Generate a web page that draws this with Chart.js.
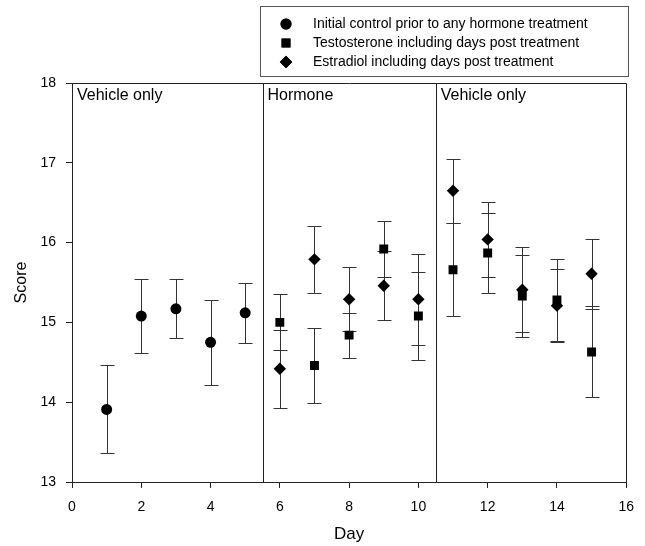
<!DOCTYPE html>
<html>
<head>
<meta charset="utf-8">
<script src="https://cdn.jsdelivr.net/npm/chart.js@4/dist/chart.umd.min.js"></script>
<style>
  html, body { margin: 0; padding: 0; background: #fff; }
  #wrap { width: 645px; height: 546px; }
</style>
</head>
<body>
<div id="wrap"><canvas id="scoreChart" width="645" height="546"></canvas></div>
<script>
// Data
const controlDays = [1, 2, 3, 4, 5];
const controlScore = [13.91, 15.08, 15.17, 14.75, 15.12];
const controlErr = [0.55, 0.46, 0.37, 0.53, 0.38];

const hormoneDays = [6, 7, 8, 9, 10, 11, 12, 13, 14, 15];
const testoScore = [15.00, 14.46, 14.84, 15.92, 15.08, 15.66, 15.87, 15.33, 15.28, 14.63];
const testoErr = [0.35, 0.47, 0.28, 0.35, 0.55, 0.58, 0.50, 0.51, 0.51, 0.57];
const estraScore = [14.42, 15.79, 15.29, 15.46, 15.29, 16.65, 16.04, 15.41, 15.21, 15.61];
const estraErr = [0.49, 0.42, 0.40, 0.43, 0.57, 0.40, 0.47, 0.53, 0.46, 0.44];

const phaseBreaks = [5.5, 10.5];
const phaseLabels = ["Vehicle only", "Hormone", "Vehicle only"];

const FONT = "'Liberation Sans', Arial, sans-serif";

function points(xs, ys, errs) {
    return xs.map((x, i) => ({ x: x, y: ys[i], err: errs[i] }));
}

// error bars, drawn under the markers
const errorBars = {
    id: 'errorBars',
    beforeDatasetsDraw(chart) {
        const ctx = chart.ctx;
        const xs = chart.scales.x, ys = chart.scales.y;
        ctx.save();
        ctx.strokeStyle = '#333';
        ctx.lineWidth = 1;
        chart.data.datasets.forEach(ds => {
            ds.data.forEach(p => {
                const px = Math.round(xs.getPixelForValue(p.x)) + 0.5;
                const top = Math.round(ys.getPixelForValue(p.y + p.err)) + 0.5;
                const bot = Math.round(ys.getPixelForValue(p.y - p.err)) + 0.5;
                ctx.beginPath();
                ctx.moveTo(px, top); ctx.lineTo(px, bot);
                ctx.moveTo(px - 7, top); ctx.lineTo(px + 7, top);
                ctx.moveTo(px - 7, bot); ctx.lineTo(px + 7, bot);
                ctx.stroke();
            });
        });
        ctx.restore();
    }
};

// frame, phase lines, phase labels and the boxed legend
const decorations = {
    id: 'decorations',
    afterDraw(chart) {
        const ctx = chart.ctx;
        const a = chart.chartArea;
        const xs = chart.scales.x;
        ctx.save();
        ctx.strokeStyle = '#222';
        ctx.lineWidth = 1;
        ctx.beginPath();
        ctx.moveTo(Math.round(a.left) + 0.5, Math.round(a.top) + 0.5);
        ctx.lineTo(Math.round(a.right) + 0.5, Math.round(a.top) + 0.5);
        ctx.lineTo(Math.round(a.right) + 0.5, Math.round(a.bottom) + 0.5);
        phaseBreaks.forEach(b => {
            const px = Math.round(xs.getPixelForValue(b)) + 0.5;
            ctx.moveTo(px, a.top);
            ctx.lineTo(px, a.bottom);
        });
        ctx.stroke();

        ctx.fillStyle = '#000';
        ctx.font = '16px ' + FONT;
        ctx.textBaseline = 'alphabetic';
        const starts = [a.left].concat(phaseBreaks.map(b => xs.getPixelForValue(b)));
        phaseLabels.forEach((t, i) => ctx.fillText(t, starts[i] + 5, a.top + 17));

        // legend
        ctx.strokeStyle = '#555';
        ctx.strokeRect(260.5, 6.5, 368, 70);
        ctx.font = '14px ' + FONT;
        ctx.textBaseline = 'middle';
        const rows = [24, 43, 62];
        chart.data.datasets.forEach((ds, i) => {
            Chart.helpers.drawPoint(ctx, {
                pointStyle: ds.pointStyle, radius: ds.pointRadius, borderWidth: 0
            }, 286, rows[i]);
            ctx.fillStyle = '#000';
            ctx.fill();
            ctx.fillText(ds.label, 313, rows[i]);
        });
        ctx.restore();
    }
};

new Chart("scoreChart", {
    type: "scatter",
    data: {
        datasets: [{
            label: "Initial control prior to any hormone treatment",
            data: points(controlDays, controlScore, controlErr),
            pointStyle: "circle",
            pointRadius: 5.5,
            backgroundColor: "#000",
            borderColor: "#000",
            borderWidth: 0
        }, {
            label: "Testosterone including days post treatment",
            data: points(hormoneDays, testoScore, testoErr),
            pointStyle: "rect",
            pointRadius: 6.3,
            backgroundColor: "#000",
            borderColor: "#000",
            borderWidth: 0
        }, {
            label: "Estradiol including days post treatment",
            data: points(hormoneDays, estraScore, estraErr),
            pointStyle: "rectRot",
            pointRadius: 6.2,
            backgroundColor: "#000",
            borderColor: "#000",
            borderWidth: 0
        }]
    },
    options: {
        responsive: false,
        animation: false,
        events: [],
        layout: { padding: { left: 0, top: 83, right: 18, bottom: 0 } },
        plugins: {
            legend: { display: false },
            tooltip: { enabled: false }
        },
        scales: {
            x: {
                type: "linear",
                min: 0, max: 16,
                afterFit(scale) { scale.height = 64; },
                ticks: { stepSize: 2, color: "#000", padding: 11, font: { family: FONT, size: 14 } },
                grid: { drawOnChartArea: false, tickLength: 6, color: "#222" },
                border: { display: true, color: "#222" },
                title: { display: true, text: "Day", color: "#000", padding: { bottom: 1 }, font: { family: FONT, size: 17 } }
            },
            y: {
                min: 13, max: 18,
                afterFit(scale) { scale.width = 72; },
                ticks: { stepSize: 1, color: "#000", padding: 10, font: { family: FONT, size: 14 } },
                grid: { drawOnChartArea: false, tickLength: 6, color: "#222" },
                border: { display: true, color: "#222" },
                title: { display: true, text: "Score", color: "#000", padding: { top: 12 }, font: { family: FONT, size: 16 } }
            }
        }
    },
    plugins: [errorBars, decorations]
});
</script>
</body>
</html>
